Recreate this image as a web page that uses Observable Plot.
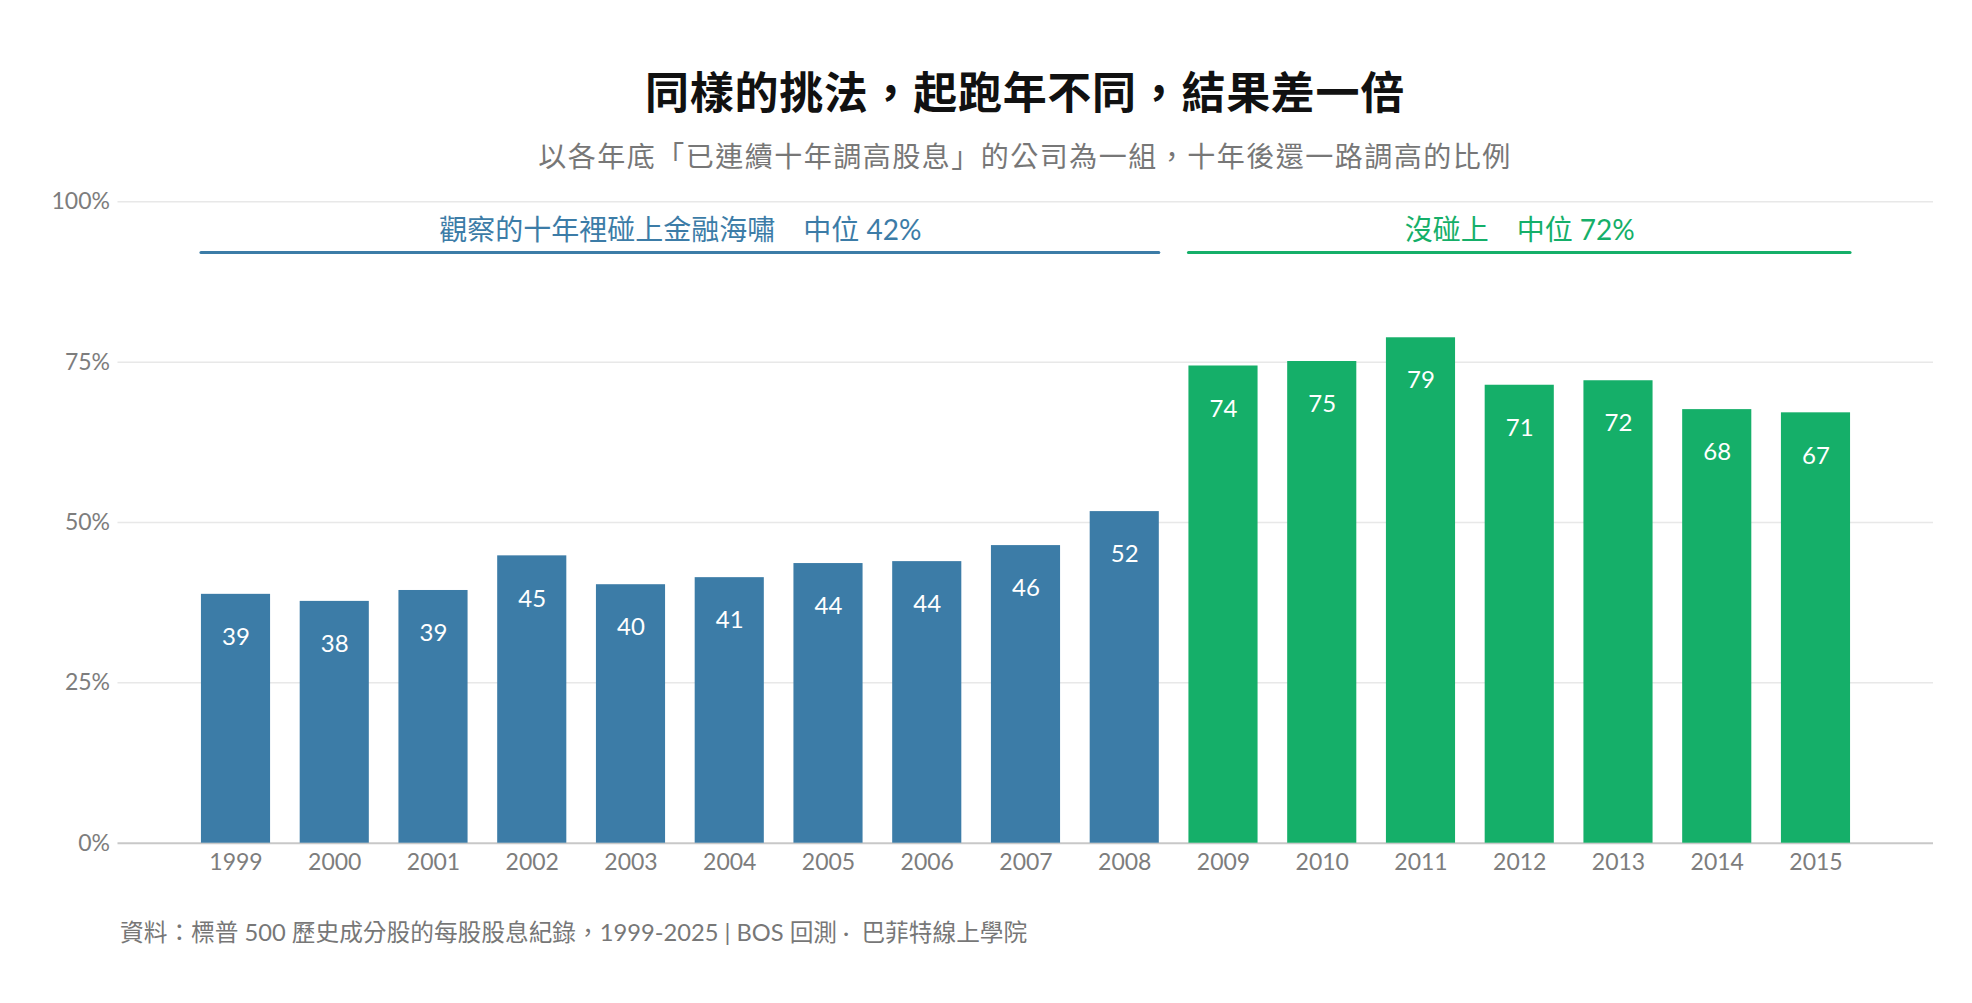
<!DOCTYPE html>
<html>
<head>
<meta charset="utf-8">
<script src="https://cdn.jsdelivr.net/npm/d3@7"></script>
<script src="https://cdn.jsdelivr.net/npm/@observablehq/plot@0.6"></script>
<style>
html, body { margin: 0; padding: 0; background: #fff; }
body { width: 1972px; height: 1003px; position: relative; overflow: hidden;
  font-family: Lato, "Noto Sans CJK TC", sans-serif; }
#title { position: absolute; left: 117px; width: 1816px; top: 60px; height: 60px; line-height: 60px;
  text-align: center; font-size: 44px; font-weight: 700; color: #111; letter-spacing: 0.7px;
  font-family: "Noto Sans CJK TC", sans-serif; }
#subtitle { position: absolute; left: 117px; width: 1816px; top: 135px; height: 40px; line-height: 40px;
  text-align: center; font-size: 28px; color: #777; letter-spacing: 1.5px;
  font-family: "Noto Sans CJK TC", sans-serif; }
#chart { position: absolute; left: 0; top: 180px; }
#caption { position: absolute; left: 120px; top: 912px; height: 40px; line-height: 40px;
  font-size: 23.7px; color: #777; white-space: nowrap; }
</style>
</head>
<body>
<div id="title">同樣的挑法，起跑年不同，結果差一倍</div>
<div id="subtitle">以各年底「已連續十年調高股息」的公司為一組，十年後還一路調高的比例</div>
<div id="chart"></div>
<div id="caption">資料：標普 500 歷史成分股的每股股息紀錄，1999-2025 | BOS 回測 ·&nbsp; 巴菲特線上學院</div>
<script>
// ---- data ----
const years = [1999, 2000, 2001, 2002, 2003, 2004, 2005, 2006, 2007, 2008,
               2009, 2010, 2011, 2012, 2013, 2014, 2015];
const values = [38.8, 37.7, 39.4, 44.8, 40.3, 41.4, 43.6, 43.9, 46.4, 51.7,
                74.4, 75.1, 78.8, 71.4, 72.1, 67.6, 67.1];
const groupLabels = ["觀察的十年裡碰上金融海嘯\u3000中位 42%", "沒碰上\u3000中位 72%"];
const groupStart = [1999, 2009];
const groupEnd = [2008, 2015];
const groupColors = ["#3c7ca7", "#15af69"];
const yTicks = [0, 25, 50, 75, 100];

// ---- derived tables ----
const groups = groupLabels.map((label, i) => ({
  label, start: groupStart[i], end: groupEnd[i], color: groupColors[i]
}));
const colorOf = (year) => groups.find(g => year >= g.start && year <= g.end).color;
const data = years.map((year, i) => ({year, value: values[i], color: colorOf(year)}));

const halfBar = 0.35;   // bar half-width in years
const bracketY = 92.1;  // bracket line level (%)
const bracketLabelY = 95.5;

const chart = Plot.plot({
  width: 1972,
  height: 720,
  marginTop: 21.3,
  marginBottom: 57.3,
  marginLeft: 117.5,
  marginRight: 39,
  style: {
    fontFamily: 'Lato, "Noto Sans CJK TC", sans-serif',
    fontSize: "23px",
    color: "#7d7d7d",
    background: "white",
    overflow: "visible"
  },
  color: {type: "identity"},
  x: {
    type: "linear",
    domain: [1997.805, 2016.19],
    ticks: years,
    tickFormat: d => String(d),
    tickSize: 0,
    tickPadding: 10,
    label: null
  },
  y: {
    domain: [0, 100],
    ticks: yTicks,
    tickFormat: d => d + "%",
    tickSize: 0,
    tickPadding: 8,
    label: null
  },
  marks: [
    Plot.ruleY(yTicks.filter(d => d > 0), {stroke: "#e8e8e8", strokeWidth: 1.5}),
    Plot.ruleY([0], {stroke: "#c8c8c8", strokeWidth: 2}),
    Plot.rectY(data, {
      x1: d => d.year - halfBar,
      x2: d => d.year + halfBar,
      y1: 0,
      y2: "value",
      fill: "color"
    }),
    Plot.text(data, {
      x: "year",
      y: "value",
      text: d => String(Math.round(d.value)),
      dy: 43,
      fill: "white",
      fontSize: 24
    }),
    Plot.ruleY(groups, {
      y: () => bracketY,
      x1: d => d.start - halfBar,
      x2: d => d.end + halfBar,
      stroke: "color",
      strokeWidth: 3,
      strokeLinecap: "round"
    }),
    Plot.text(groups, {
      x: d => (d.start + d.end) / 2,
      y: () => bracketLabelY,
      text: "label",
      fill: "color",
      fontSize: 28
    })
  ]
});
document.getElementById("chart").appendChild(chart);
</script>
</body>
</html>
